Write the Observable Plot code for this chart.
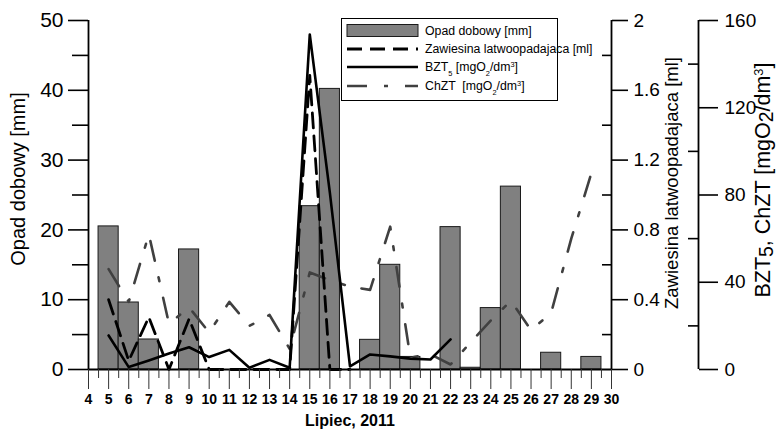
<!DOCTYPE html>
<html>
<head>
<meta charset="utf-8">
<script src="https://cdn.jsdelivr.net/npm/d3@7"></script>
<script src="https://cdn.jsdelivr.net/npm/@observablehq/plot@0.6"></script>
<style>
  body { margin: 0; background: #fff; }
  #chart svg { display: block; }
</style>
</head>
<body>
<div id="chart"></div>
<script>
// Daily rainfall [mm], July 2011
const rainDays = [5, 6, 7, 9, 15, 16, 18, 19, 20, 22, 23, 24, 25, 27, 29];
const rainMm   = [20.5, 9.6, 4.3, 17.2, 23.4, 40.2, 4.25, 15.0, 1.8, 20.4, 0.25, 8.8, 26.2, 2.4, 1.8];

// Settleable solids [ml]
const zawDays = [5, 6, 7, 8, 9, 10, 11, 12, 13, 14, 15, 16, 17];
const zawMl   = [0.40, 0.05, 0.30, 0.0, 0.29, 0.0, 0.0, 0.0, 0.0, 0.0, 1.685, 0.0, 0.0];

// BOD5 [mgO2/dm3]
const bztDays = [5, 6, 7, 8, 9, 10, 11, 12, 13, 14, 15, 16, 17, 18, 19, 20, 21, 22];
const bztVal  = [15.6, 1.1, 4.1, 7.3, 10.2, 5.7, 9.0, 0.8, 4.4, 0.8, 153.6, 81, 1.4, 6.9, 6.0, 5.0, 4.6, 13.8];

// COD [mgO2/dm3]
const chztDays = [5, 6, 7, 8, 9, 10, 11, 12, 13, 14, 15, 16, 17, 18, 19, 20, 21, 22, 23, 24, 25, 26, 27, 28, 29];
const chztVal  = [46, 31, 62, 21, 28.5, 17, 31, 20, 25, 9.5, 44.5, 41, 38, 36.5, 65.5, 5.5, 7, 2.3, 12.5, 22.5, 31.5, 18, 26, 60, 90];

// Axis ticks
const dayTicks   = d3.range(4, 31);
const halfTicks  = d3.range(4.5, 30, 1);
const rainMajor  = [0, 10, 20, 30, 40, 50];
const rainMinor  = [5, 15, 25, 35, 45];
const zawMajor   = [0, 0.4, 0.8, 1.2, 1.6, 2];
const zawMinor   = [0.2, 0.6, 1.0, 1.4, 1.8];
const oxMajor    = [0, 40, 80, 120, 160];
const oxMinor    = [20, 60, 100, 140];

// Secondary quantities share the rainfall y scale (0–50)
const zawMax = 2, oxMax = 160, rainMax = 50;
const zawToY = v => v * rainMax / zawMax;
const oxToY  = v => v * rainMax / oxMax;

const W = 777, H = 429, ML = 88, MR = 166, MT = 20, MB = 60;
const frameW = W - ML - MR;
const axis3Offset = 87;
const font = "'Liberation Sans', Arial, Helvetica, sans-serif";

const rainRows = rainDays.map((day, i) => ({day, mm: rainMm[i]}));
const zawRows  = zawDays.map((day, i) => ({day, v: zawMl[i]}));
const bztRows  = bztDays.map((day, i) => ({day, v: bztVal[i]}));
const chztRows = chztDays.map((day, i) => ({day, v: chztVal[i]}));

const fmt = v => String(+v.toFixed(2));

const svg = Plot.plot({
  width: W, height: H,
  marginLeft: ML, marginRight: MR, marginTop: MT, marginBottom: MB,
  style: {fontFamily: font, color: "#000", background: "#fff", overflow: "visible"},
  x: {domain: [dayTicks[0], dayTicks[dayTicks.length - 1]]},
  y: {domain: [0, rainMax]},
  marks: [
    // rainfall bars
    Plot.rect(rainRows, {x1: d => d.day - 0.5, x2: d => d.day + 0.5, y1: 0, y2: "mm",
      fill: "#808080", stroke: "#1a1a1a", strokeWidth: 1}),
    // lines
    Plot.line(chztRows, {x: "day", y: d => oxToY(d.v), stroke: "#404040", strokeWidth: 2.6,
      strokeDasharray: "20,17,4,17"}),
    Plot.line(zawRows, {x: "day", y: d => zawToY(d.v), stroke: "#000", strokeWidth: 2.8,
      strokeDasharray: "15,8"}),
    Plot.line(bztRows, {x: "day", y: d => oxToY(d.v), stroke: "#000", strokeWidth: 2.6}),

    // axis lines
    Plot.ruleY([0], {stroke: "#000", strokeWidth: 1.8}),
    Plot.ruleX([dayTicks[0]], {stroke: "#000", strokeWidth: 1.8}),
    Plot.ruleX([dayTicks[dayTicks.length - 1]], {stroke: "#000", strokeWidth: 1.8}),
    Plot.ruleX([dayTicks[dayTicks.length - 1]], {dx: axis3Offset, stroke: "#000", strokeWidth: 1.8}),

    // left axis: rainfall
    Plot.axisY(rainMajor, {anchor: "left", tickSize: 20, tickPadding: 5, fontSize: 21,
      strokeWidth: 1.6, label: null}),
    Plot.axisY(rainMinor, {anchor: "left", tickSize: 16, tickFormat: () => "", strokeWidth: 1.6, label: null}),

    // right axis: settleable solids
    Plot.axisY(zawMajor.map(zawToY), {anchor: "right", tickSize: 16, tickPadding: 6, fontSize: 19,
      strokeWidth: 1.6, tickFormat: d => fmt(d * zawMax / rainMax), label: null}),
    Plot.axisY(zawMinor.map(zawToY), {anchor: "left", dx: frameW, tickSize: 9,
      tickFormat: () => "", strokeWidth: 1.6, label: null}),

    // outer right axis: BOD5, COD
    Plot.axisY(oxMajor.map(oxToY), {anchor: "right", dx: axis3Offset, tickSize: 19, tickPadding: 7,
      fontSize: 19, strokeWidth: 1.6, tickFormat: d => fmt(d * oxMax / rainMax), label: null}),
    Plot.axisY(oxMinor.map(oxToY), {anchor: "left", dx: frameW + axis3Offset, tickSize: 10,
      tickFormat: () => "", strokeWidth: 1.6, label: null}),

    // x axis: days
    Plot.axisX(dayTicks, {anchor: "bottom", tickSize: 20, tickPadding: 5, fontSize: 14,
      fontWeight: "bold", stroke: "#333", strokeWidth: 1, label: null}),
    Plot.axisX(halfTicks, {anchor: "bottom", tickSize: 9, tickFormat: () => "",
      stroke: "#333", strokeWidth: 1, label: null}),

    // axis titles
    Plot.text(["Opad dobowy [mm]"], {frameAnchor: "left", textAnchor: "middle", lineAnchor: "middle",
      dx: -70, dy: -16, rotate: -90, fontSize: 20}),
    Plot.text(["Zawiesina latwoopadajaca [ml]"], {frameAnchor: "right", textAnchor: "middle", lineAnchor: "middle",
      dx: 61, dy: -12, rotate: -90, fontSize: 18.5}),
    Plot.text(["Lipiec, 2011"], {frameAnchor: "bottom", lineAnchor: "middle", dy: 51, fontSize: 16, fontWeight: "bold"})
  ]
});

const root = d3.select(svg);

// text with sub/superscript pieces
function richText(sel, parts) {
  for (const p of parts) {
    const t = sel.append("tspan").text(p.t);
    if (p.sub) t.attr("baseline-shift", p.sub).attr("font-size", p.size || "70%");
  }
  return sel;
}

// title of the outer right axis
richText(root.append("text")
  .attr("transform", "translate(770,180) rotate(-90)")
  .attr("text-anchor", "middle")
  .attr("font-size", 21.5)
  .attr("font-family", font), [
  {t: "BZT"}, {t: "5", sub: "-3", size: "90%"}, {t: ", ChZT [mgO"}, {t: "2", sub: "-3", size: "90%"},
  {t: "/dm"}, {t: "3", sub: "7", size: "60%"}, {t: "]"}
]);

// legend
const lg = root.append("g").attr("font-family", font).attr("font-size", 12.3);
lg.append("rect").attr("x", 341.5).attr("y", 18.5).attr("width", 216).attr("height", 82)
  .attr("fill", "#fff").attr("stroke", "#000").attr("stroke-width", 1);
const sx0 = 347, sx1 = 418, tx = 425;
const rows = [31, 49, 67, 86];
lg.append("rect").attr("x", sx0).attr("y", 24.5).attr("width", sx1 - sx0).attr("height", 12)
  .attr("fill", "#808080").attr("stroke", "#1a1a1a");
lg.append("line").attr("x1", sx0).attr("x2", sx1).attr("y1", rows[1]).attr("y2", rows[1])
  .attr("stroke", "#000").attr("stroke-width", 2.8).attr("stroke-dasharray", "15,8");
lg.append("line").attr("x1", sx0).attr("x2", sx1).attr("y1", rows[2]).attr("y2", rows[2])
  .attr("stroke", "#000").attr("stroke-width", 2.6);
lg.append("line").attr("x1", sx0).attr("x2", sx1).attr("y1", rows[3]).attr("y2", rows[3])
  .attr("stroke", "#404040").attr("stroke-width", 2.6).attr("stroke-dasharray", "20,17,4,17");

const legendTexts = [
  [{t: "Opad dobowy [mm]"}],
  [{t: "Zawiesina latwoopadajaca [ml]"}],
  [{t: "BZT"}, {t: "5", sub: "sub", size: "60%"}, {t: " [mgO"}, {t: "2", sub: "sub", size: "60%"},
   {t: "/dm"}, {t: "3", sub: "super", size: "60%"}, {t: "]"}],
  [{t: "ChZT  [mgO"}, {t: "2", sub: "sub", size: "60%"}, {t: "/dm"}, {t: "3", sub: "super", size: "60%"}, {t: "]"}]
];
legendTexts.forEach((parts, i) => {
  richText(lg.append("text").attr("x", tx).attr("y", rows[i]).attr("dy", "0.35em")
    .attr("text-anchor", "start")
    .attr("xml:space", "preserve").style("white-space", "pre"), parts);
});

document.getElementById("chart").append(svg);
</script>
</body>
</html>
